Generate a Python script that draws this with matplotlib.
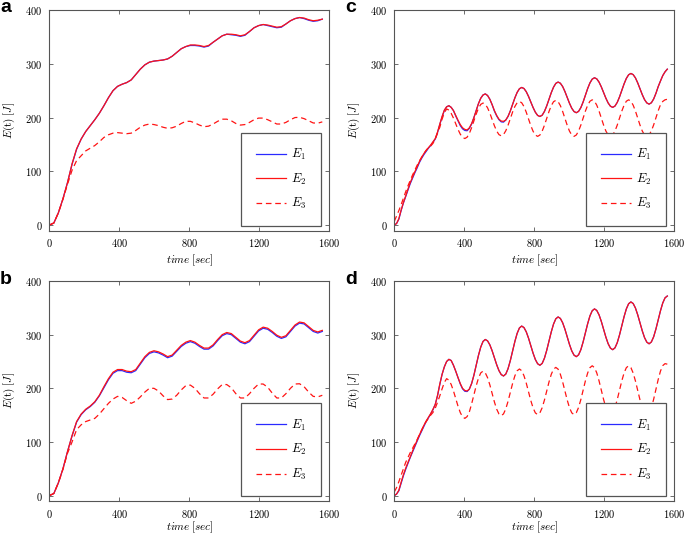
import matplotlib
matplotlib.use('Agg')
import matplotlib.pyplot as plt

plt.rcParams['font.family'] = ['cmr10']
plt.rcParams['mathtext.fontset'] = 'cm'
plt.rcParams['axes.formatter.use_mathtext'] = True
plt.rcParams['axes.unicode_minus'] = False

# ---------------- data ----------------
# sampling times for panels a and b
time = [0, 26, 52, 78, 104, 130, 156, 182, 208, 234, 260, 286, 312, 338, 364, 390,
        416, 442, 468, 494, 520, 546, 572, 598, 624, 650, 676, 702, 728, 754, 780,
        806, 832, 858, 884, 910, 936, 962, 988, 1014, 1040, 1066, 1092, 1118, 1144,
        1170, 1196, 1222, 1248, 1274, 1300, 1326, 1352, 1378, 1404, 1430, 1456, 1482,
        1508, 1534, 1560]

# sampling times for panels c and d (strong oscillations, read more densely)
time_fine = [0, 13, 26, 39, 52, 65, 78, 91, 104, 117, 130, 143, 156, 169, 182, 195,
             208, 221, 234, 247, 260, 273, 286, 299, 312, 325, 338, 351, 364, 377, 390,
             403, 416, 429, 442, 455, 468, 481, 494, 507, 520, 533, 546, 559, 572, 585,
             598, 611, 624, 637, 650, 663, 676, 689, 702, 715, 728, 741, 754, 767, 780,
             793, 806, 819, 832, 845, 858, 871, 884, 897, 910, 923, 936, 949, 962, 975,
             988, 1001, 1014, 1027, 1040, 1053, 1066, 1079, 1092, 1105, 1118, 1131, 1144,
             1157, 1170, 1183, 1196, 1209, 1222, 1235, 1248, 1261, 1274, 1287, 1300, 1313,
             1326, 1339, 1352, 1365, 1378, 1391, 1404, 1417, 1430, 1443, 1456, 1469, 1482,
             1495, 1508, 1521, 1534, 1547, 1560]

# panel a
a_E1 = [0, 4, 23, 49, 79, 113, 141, 160, 174, 185, 196, 208, 222, 237, 250, 258, 262, 265,
        270, 280, 290, 298, 303, 305, 306, 307, 309, 314, 321, 328, 332, 334, 334, 333, 331,
        333, 340, 346, 352, 355, 354, 353, 351, 353, 360, 367, 371, 373, 371, 369, 367, 368,
        374, 380, 384, 386, 384, 381, 379, 380, 383]
a_E2 = [0, 4, 23, 49, 79, 114, 142, 160, 174, 185, 196, 208, 222, 237, 250, 258, 262, 265,
        270, 280, 290, 298, 303, 305, 306, 307, 309, 314, 321, 328, 332, 335, 335, 334, 332,
        334, 340, 346, 352, 355, 355, 354, 352, 354, 360, 367, 371, 373, 372, 370, 368, 369,
        374, 380, 384, 386, 385, 382, 380, 381, 383]
a_E3 = [0, 4, 23, 48, 76, 102, 120, 129, 138, 143, 148, 155, 163, 168, 171, 172, 171, 170,
        171, 176, 182, 186, 188, 187, 185, 182, 180, 181, 184, 189, 193, 193, 190, 186, 183,
        184, 188, 193, 197, 197, 194, 189, 186, 187, 191, 196, 199, 199, 196, 192, 188, 188,
        191, 196, 200, 200.5, 198, 194, 190, 189.5, 192]

# panel b
b_E1 = [0, 4, 24, 50, 82, 111, 137, 151, 160, 166, 174, 186, 201, 216, 228, 233, 233, 230,
        229, 233, 245, 257, 265, 268, 266, 262, 257, 260, 269, 278, 284, 287, 284, 278, 273,
        273, 279, 289, 298, 302, 300, 293, 286, 283, 287, 297, 307, 312, 310, 304, 297, 293,
        296, 306, 316, 321.5, 320, 313, 306, 303, 306]
b_E2 = [0, 4, 24, 50, 82, 112, 138, 152, 161, 167, 175, 187, 203, 218, 230, 235, 235, 232,
        231, 235, 247, 259, 267, 270, 268, 264, 259, 262, 271, 280, 286, 289, 286, 280, 275,
        275, 281, 291, 300, 304, 302, 295, 288, 285, 289, 299, 309, 314, 312, 306, 299, 295,
        298, 308, 318, 323.5, 322, 315, 308, 305, 308]
b_E3 = [0, 4, 24, 49, 79, 100, 123, 132, 138, 141, 144, 152, 162, 172, 180, 185, 183, 177,
        172, 176, 184, 193, 200, 200, 195, 186, 179, 180, 187, 197, 205, 206, 200, 190, 182,
        182, 189, 199, 207, 207, 201, 190, 182, 182, 190, 200, 208, 208, 202, 191, 182, 182,
        190, 200, 208, 208.5, 203, 193, 185, 184, 187]

# panel c
c_E1 = [0, 3, 11, 27, 41, 53, 65, 77, 87, 97, 106, 116, 124, 131, 137, 143, 148, 154, 160,
        172, 187, 201, 213, 220, 222,
        219, 213, 203, 194, 185, 179, 176, 175.5,
        180, 188, 200, 213, 226, 236, 242, 244,
        241, 234, 224, 212, 203, 196, 192, 191.5,
        195.4, 202.2, 212.4, 224.5, 236.6, 246.8, 253.6, 256,
        254, 248.1, 239.3, 229, 218.7, 209.9, 204, 202,
        204.4, 211.4, 221.7, 234, 246.3, 256.6, 263.6, 266,
        263.8, 257.7, 248.4, 237.5, 226.6, 217.3, 211.2, 209,
        211.5, 218.5, 229, 241.5, 254, 264.5, 271.5, 274,
        271.9, 265.9, 257, 246.5, 236, 227.1, 221.1, 219,
        221.4, 228.2, 238.4, 250.5, 262.6, 272.8, 279.6, 282,
        279.8, 273.7, 264.4, 253.5, 242.6, 233.3, 227.2, 225,
        227.5, 234.5, 245, 257.5, 268, 278, 285, 290]
c_E2 = [0, 3, 12, 28, 42, 54, 67, 79, 89, 99, 108, 118, 126, 133, 139, 144, 149, 155, 161,
        173, 188, 202, 214, 220, 222,
        219, 213, 204, 195, 187, 181, 178, 177,
        181, 189, 200, 213, 226, 236, 242, 244,
        241, 234, 224, 213, 204, 197, 193.5, 193,
        195.4, 202.2, 212.4, 224.5, 236.6, 246.8, 253.6, 256,
        254, 248.1, 239.3, 229, 218.7, 209.9, 204, 202,
        204.4, 211.4, 221.7, 234, 246.3, 256.6, 263.6, 266,
        263.8, 257.7, 248.4, 237.5, 226.6, 217.3, 211.2, 209,
        211.5, 218.5, 229, 241.5, 254, 264.5, 271.5, 274,
        271.9, 265.9, 257, 246.5, 236, 227.1, 221.1, 219,
        221.4, 228.2, 238.4, 250.5, 262.6, 272.8, 279.6, 282,
        279.8, 273.7, 264.4, 253.5, 242.6, 233.3, 227.2, 225,
        227.5, 234.5, 245, 257.5, 268, 278, 285, 290]
c_E3 = [7, 17, 27, 38, 50, 62, 73, 83, 93, 102, 111, 119, 126, 133, 139, 144, 147, 152, 160,
        171, 182, 197, 209, 216,
        213.9, 207.9, 199, 188.5, 178, 169.1, 163.1, 161,
        163.5, 170.7, 181.4, 194, 206.6, 217.3, 224.5, 227,
        224.7, 218.1, 208.2, 196.5, 184.8, 174.9, 168.3, 166,
        168.4, 175.4, 185.7, 198, 210.3, 220.6, 227.6, 230,
        227.5, 220.5, 210, 197.5, 185, 174.5, 167.5, 165,
        167.5, 174.8, 185.7, 198.5, 211.3, 222.2, 229.5, 232,
        229.5, 222.2, 211.3, 198.5, 185.7, 174.8, 167.5, 165,
        167.6, 175, 186, 199, 212, 223, 230.4, 233,
        230.4, 223, 212, 199, 186, 175, 167.6, 165,
        167.6, 175, 186, 199, 212, 223, 230.4, 233,
        230.4, 223, 212, 199, 186, 175, 167.6, 165,
        167.6, 175.3, 186.3, 199.5, 212.7, 223.8, 230, 233,
        234]

# panel d
d_E1 = [0, 3, 9, 23, 37, 49, 60, 71, 81, 91, 101, 111, 120, 129, 138, 145, 152, 160, 170,
        186, 207, 226, 240, 250, 254,
        251.8, 243, 232, 220, 208, 199, 194.5, 194,
        198.6, 209.1, 224.6, 243, 261.4, 276.9, 287.4, 291,
        288.4, 281, 270, 257, 244, 233, 225.6, 223,
        226.5, 236.6, 251.7, 269.5, 287.3, 302.4, 312.5, 316,
        313.2, 305.3, 293.5, 279.5, 265.5, 253.7, 245.8, 243,
        246.4, 256.2, 270.8, 288, 305.2, 319.8, 329.6, 333,
        330.2, 322.2, 310.2, 296, 281.8, 269.8, 261.8, 259,
        262.4, 272, 286.5, 303.5, 320.5, 335, 344.6, 348,
        345.1, 336.9, 324.6, 310, 295.4, 283.1, 274.9, 272,
        275.4, 285, 299.5, 316.5, 333.5, 348, 357.6, 361,
        358, 349.6, 336.9, 322, 307.1, 294.4, 286, 283,
        286.4, 296, 310.5, 327.5, 344.5, 359, 368.6, 372]
d_E2 = [0, 3, 10, 25, 39, 51, 62, 72, 83, 93, 103, 113, 122, 131, 139, 146, 153, 161, 170,
        187, 208, 226, 240, 250, 254,
        251.8, 243, 232, 220, 209, 200, 196, 195,
        198.6, 209.1, 224.6, 243, 261.4, 276.9, 287.4, 291,
        288.4, 281, 270, 257, 244, 233, 225.6, 223,
        226.5, 236.6, 251.7, 269.5, 287.3, 302.4, 312.5, 316,
        313.2, 305.3, 293.5, 279.5, 265.5, 253.7, 245.8, 243,
        246.4, 256.2, 270.8, 288, 305.2, 319.8, 329.6, 333,
        330.2, 322.2, 310.2, 296, 281.8, 269.8, 261.8, 259,
        262.4, 272, 286.5, 303.5, 320.5, 335, 344.6, 348,
        345.1, 336.9, 324.6, 310, 295.4, 283.1, 274.9, 272,
        275.4, 285, 299.5, 316.5, 333.5, 348, 357.6, 361,
        358, 349.6, 336.9, 322, 307.1, 294.4, 286, 283,
        286.4, 296, 310.5, 327.5, 344.5, 359, 368.6, 372]
d_E3 = [7, 15, 26, 38, 50, 62, 71, 80, 88, 96, 104, 113, 122, 131, 138, 144, 150, 155, 163,
        174, 186, 199, 211, 218,
        215.2, 207.2, 195.2, 181, 166.8, 154.8, 146.8, 144,
        147.3, 156.2, 171.2, 188, 204.8, 219, 228.7, 232,
        228.8, 219.8, 206.4, 190.5, 174.6, 161.2, 152.2, 149,
        152.3, 161.7, 175.8, 192.5, 209.2, 223.3, 232.7, 236,
        232.8, 223.5, 209.8, 193.5, 177.2, 163.5, 154.2, 151,
        154.3, 163.9, 178.2, 195, 211.8, 226.1, 235.7, 239,
        235.7, 226.1, 211.8, 195, 178.2, 163.9, 154.3, 151,
        154.5, 164.3, 179.1, 196.5, 213.9, 228.7, 238.5, 242,
        238.5, 228.7, 213.9, 196.5, 179.1, 164.3, 154.5, 151,
        154.5, 164.3, 179.1, 196.5, 213.9, 228.7, 238.5, 242,
        238.5, 228.5, 213.6, 196, 178.4, 163.5, 153.5, 150,
        153.7, 163.9, 179.6, 198, 216.4, 232.1, 242.3, 246,
        245]

x_ticks = [0, 400, 800, 1200, 1600]
y_ticks = [0, 100, 200, 300, 400]
series_labels = [r'$E_1$', r'$E_2$', r'$E_3$']
panel_letters = ['a', 'b', 'c', 'd']
panel_data = {'a': (time, a_E1, a_E2, a_E3), 'b': (time, b_E1, b_E2, b_E3),
              'c': (time_fine, c_E1, c_E2, c_E3), 'd': (time_fine, d_E1, d_E2, d_E3)}

# ---------------- layout ----------------
W, H = 685, 535
fig = plt.figure(figsize=(W / 100, H / 100), dpi=100)

def rect(l, r, t, b):
    return [l / W, 1 - b / H, (r - l) / W, (b - t) / H]

boxes = {'a': (49.3, 329.3, 10, 230.5), 'c': (394.3, 674.3, 10, 230.5),
         'b': (49.3, 329.3, 281, 501), 'd': (394.3, 674.3, 281, 501)}
letter_pos = {'a': (0, 12.5), 'c': (345, 12.5), 'b': (0, 283.5), 'd': (345, 283.5)}
xlabel_y = {'a': -0.1, 'c': -0.1, 'b': -0.086, 'd': -0.086}

blue = '#2a2aff'
red = '#ff1414'
frame_c = '#555555'

for key in panel_letters:
    ax = fig.add_axes(rect(*boxes[key]))
    t, e1, e2, e3 = panel_data[key]
    ax.plot(t, e1, color=blue, lw=0.9, label=series_labels[0])
    ax.plot(t, e2, color=red, lw=0.9, label=series_labels[1])
    ax.plot(t, e3, color=red, lw=0.9, dashes=(4.5, 3), label=series_labels[2])
    ax.set_xlim(0, 1600)
    ax.set_ylim(-10, 400)
    ax.set_xticks(x_ticks)
    ax.set_yticks(y_ticks)
    ax.tick_params(direction='in', top=True, right=True, length=3, width=0.6,
                   color=frame_c, labelsize=7.5, pad=5)
    for sp in ax.spines.values():
        sp.set_color(frame_c)
        sp.set_linewidth(0.8)
    ax.set_xlabel(r'$time\;[sec]$', fontsize=8)
    ax.set_ylabel(r'$E(\mathrm{t})\;[J]$', fontsize=8)
    ax.xaxis.set_label_coords(0.5, xlabel_y[key])
    ax.yaxis.set_label_coords(-0.115, 0.5)
    leg = ax.legend(loc='lower right', bbox_to_anchor=(0.969, 0.021), borderaxespad=0,
                    fancybox=False, edgecolor=frame_c, framealpha=1, fontsize=9,
                    handlelength=2.4, labelspacing=0.76, borderpad=1.15, handletextpad=0.45)
    leg.get_frame().set_linewidth(0.9)
    lx, ly = letter_pos[key]
    fig.text(lx / W, 1 - ly / H, key, ha='left', va='baseline', fontsize=14,
             fontweight='bold', family='Liberation Sans')

fig.savefig('out.png', dpi=100)
